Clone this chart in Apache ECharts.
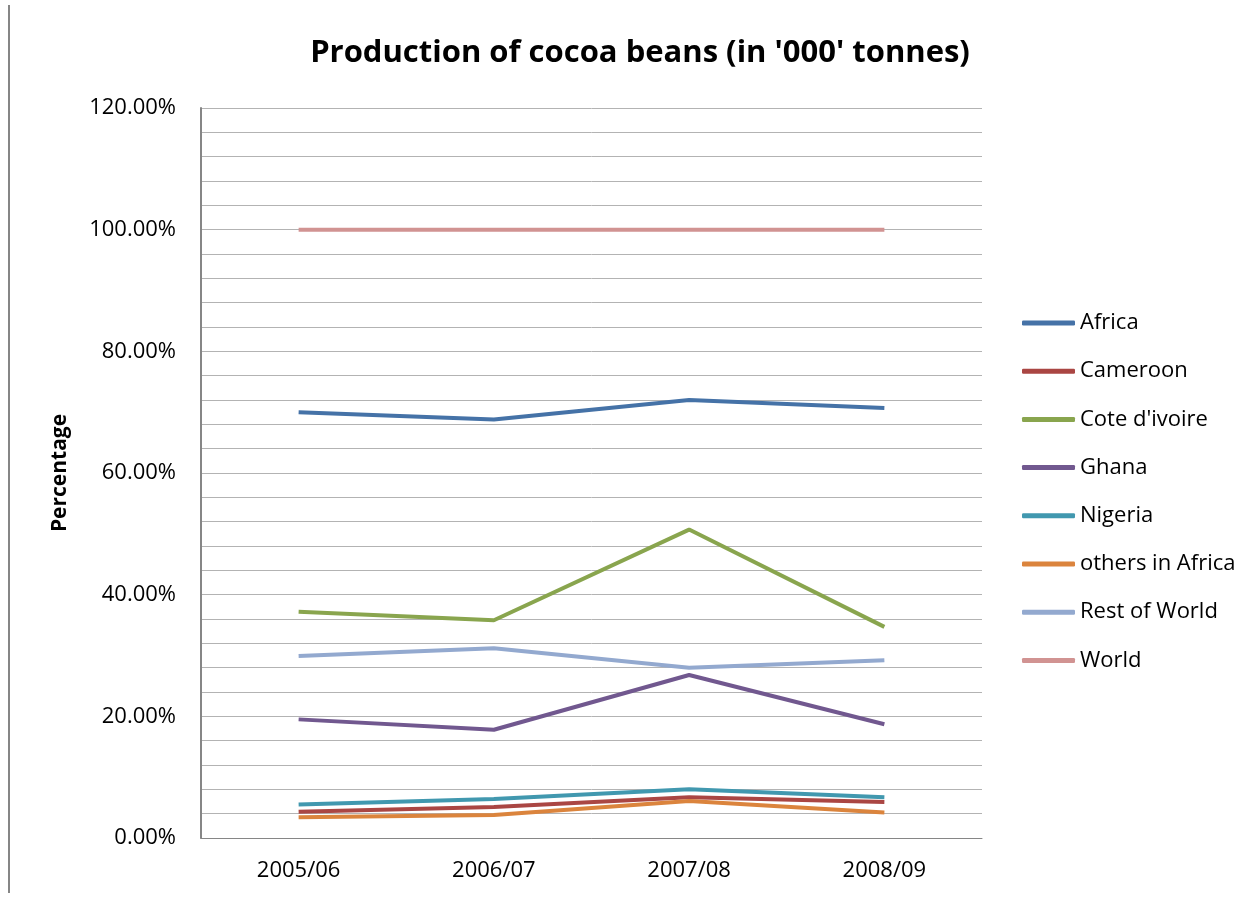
<!DOCTYPE html>
<html>
<head>
<meta charset="utf-8">
<script src="https://cdn.jsdelivr.net/npm/echarts@6/dist/echarts.min.js"></script>
<style>
html,body{margin:0;padding:0;background:#fff;}
#chart{width:1257px;height:898px;}
</style>
</head>
<body>
<div id="chart"></div>
<script>
var categories = ['2005/06', '2006/07', '2007/08', '2008/09'];
var seriesNames = ['Africa', 'Cameroon', "Cote d'ivoire", 'Ghana', 'Nigeria', 'others in Africa', 'Rest of World', 'World'];
var africa = [70.0, 68.8, 72.0, 70.7];
var cameroon = [4.3, 5.1, 6.7, 5.9];
var coteDivoire = [37.2, 35.8, 50.7, 34.7];
var ghana = [19.5, 17.8, 26.8, 18.7];
var nigeria = [5.5, 6.4, 8.0, 6.7];
var othersInAfrica = [3.4, 3.8, 6.1, 4.2];
var restOfWorld = [29.9, 31.2, 28.0, 29.2];
var world = [100, 100, 100, 100];
var yTicks = [0, 20, 40, 60, 80, 100, 120];

var seriesData = [africa, cameroon, coteDivoire, ghana, nigeria, othersInAfrica, restOfWorld, world];
var colors = ['#4572A7', '#AA4643', '#89A54E', '#71588F', '#4198AF', '#DB843D', '#93A9CF', '#D19392'];
var FONT = '"Open Sans", Lato, sans-serif';

var chart = echarts.init(document.getElementById('chart'));
chart.setOption({
  animation: false,
  backgroundColor: '#ffffff',
  color: colors,
  title: {
    text: "Production of cocoa beans (in '000' tonnes)",
    left: 640, top: 38, textAlign: 'center', padding: 0,
    textStyle: { fontFamily: FONT, fontSize: 31, fontWeight: 'bold', color: '#000' }
  },
  graphic: [{
    type: 'line', shape: { x1: 9, y1: 5, x2: 9, y2: 893 },
    style: { stroke: '#868686', lineWidth: 2 }
  }],
  legend: {
    orient: 'vertical', left: 1022, top: 311, padding: 0,
    itemGap: 24.2, itemWidth: 53, itemHeight: 5, icon: 'roundRect',
    data: seriesNames,
    textStyle: { fontFamily: FONT, fontSize: 22, lineHeight: 24, color: '#000' }
  },
  grid: { left: 201, right: 275, top: 108, bottom: 60 },
  xAxis: {
    type: 'category', data: categories, boundaryGap: true,
    axisLine: { lineStyle: { color: '#868686', width: 1 } },
    axisTick: { show: false },
    axisLabel: { fontFamily: FONT, fontSize: 22, color: '#000', margin: 22 }
  },
  yAxis: {
    type: 'value', min: 0, max: 120, interval: 4,
    name: 'Percentage', nameLocation: 'middle', nameGap: 130,
    nameTextStyle: { fontFamily: FONT, fontSize: 21, fontWeight: 'bold', color: '#000' },
    axisLine: { show: true, lineStyle: { color: '#868686', width: 2 } },
    axisTick: { show: false },
    splitLine: { lineStyle: { color: '#b3b3b3', width: 1 } },
    axisLabel: {
      fontFamily: FONT, fontSize: 22, color: '#000', margin: 25,
      formatter: function (v) { return yTicks.indexOf(v) >= 0 ? v.toFixed(2) + '%' : ''; }
    }
  },
  series: seriesNames.map(function (n, i) {
    return {
      name: n, type: 'line', data: seriesData[i],
      symbol: 'none', smooth: false,
      lineStyle: { width: 4, color: colors[i] },
      itemStyle: { color: colors[i] }
    };
  })
});
</script>
</body>
</html>
